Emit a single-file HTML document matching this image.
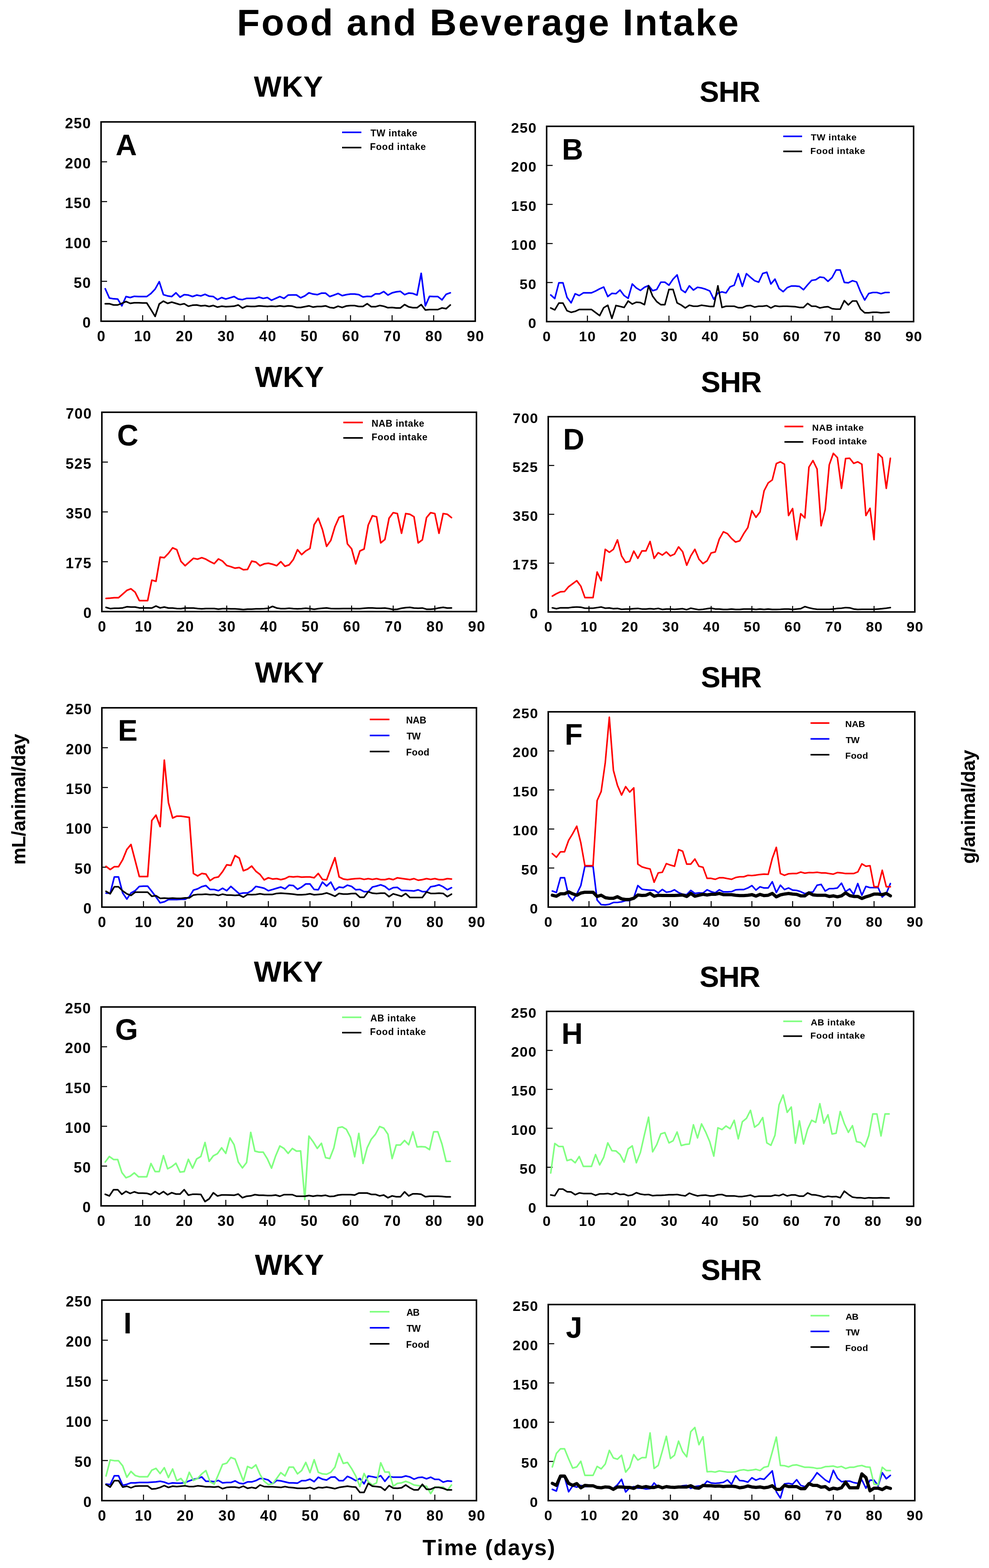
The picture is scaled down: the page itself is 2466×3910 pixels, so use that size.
<!DOCTYPE html>
<html><head><meta charset="utf-8"><title>Food and Beverage Intake</title>
<style>html,body{margin:0;padding:0;background:#fff;}svg{display:block;}text{fill:#000;}</style>
</head><body>
<svg width="2466" height="3910" viewBox="0 0 2466 3910" style="font-family:'Liberation Sans',Arial,Helvetica,sans-serif;font-weight:bold;font-kerning:none;">
<rect width="2466" height="3910" fill="#fff"/>
<text x="590.8" y="88.0" style="font-size:93px;letter-spacing:4.06px;">Food and Beverage Intake</text>
<text x="1053.4" y="3878.0" style="font-size:55.2px;letter-spacing:2.39px;">Time (days)</text>
<text transform="translate(62.9,2153) rotate(-90)" x="-3.2" y="0" style="font-size:48px;letter-spacing:-0.6px">mL/animal/day</text>
<text transform="translate(2431,2152) rotate(-90)" x="-2.0" y="0" style="font-size:48px;letter-spacing:-0.6px">g/animal/day</text>
<text x="633.0" y="241.0" style="font-size:73px;letter-spacing:0.90px;">WKY</text>
<text x="288.2" y="387.0" style="font-size:73.5px;">A</text>
<rect x="252" y="304" width="933" height="497" fill="none" stroke="#000" stroke-width="3.8"/>
<text x="205.7" y="817.2" style="font-size:36.5px;letter-spacing:1.60px;">0</text>
<text x="183.8" y="717.9" style="font-size:36.5px;letter-spacing:1.60px;">50</text>
<text x="161.9" y="618.5" style="font-size:36.5px;letter-spacing:1.60px;">100</text>
<text x="161.9" y="519.0" style="font-size:36.5px;letter-spacing:1.60px;">150</text>
<text x="161.9" y="419.6" style="font-size:36.5px;letter-spacing:1.60px;">200</text>
<text x="161.9" y="320.2" style="font-size:36.5px;letter-spacing:1.60px;">250</text>
<text x="241.9" y="850.5" style="font-size:36.5px;letter-spacing:1.60px;">0</text>
<text x="334.2" y="850.5" style="font-size:36.5px;letter-spacing:1.60px;">10</text>
<text x="438.3" y="850.5" style="font-size:36.5px;letter-spacing:1.60px;">20</text>
<text x="542.2" y="850.5" style="font-size:36.5px;letter-spacing:1.60px;">30</text>
<text x="646.0" y="850.5" style="font-size:36.5px;letter-spacing:1.60px;">40</text>
<text x="749.4" y="850.5" style="font-size:36.5px;letter-spacing:1.60px;">50</text>
<text x="853.0" y="850.5" style="font-size:36.5px;letter-spacing:1.60px;">60</text>
<text x="956.5" y="850.5" style="font-size:36.5px;letter-spacing:1.60px;">70</text>
<text x="1060.4" y="850.5" style="font-size:36.5px;letter-spacing:1.60px;">80</text>
<text x="1164.0" y="850.5" style="font-size:36.5px;letter-spacing:1.60px;">90</text>
<path d="M252,701.6h15M252,602.2h15M252,502.8h15M252,403.4h15M355.7,801v-15M459.3,801v-15M563.0,801v-15M666.7,801v-15M770.3,801v-15M874.0,801v-15M977.7,801v-15M1081.3,801v-15" stroke="#000" stroke-width="2.5" fill="none"/>
<path d="M853,330.0h48" stroke="#0000ff" stroke-width="4"/>
<text x="923.7" y="340.0" style="font-size:23.3px;letter-spacing:0.80px;">TW intake</text>
<path d="M853,368.0h48" stroke="#000000" stroke-width="4"/>
<text x="922.4" y="374.0" style="font-size:23.3px;letter-spacing:0.86px;">Food intake</text>
<polyline points="262.4,720.0 272.7,743.2 283.1,745.1 293.5,745.7 303.8,762.7 314.2,739.5 324.6,742.0 334.9,738.9 345.3,739.5 355.7,739.5 366.0,739.5 376.4,731.8 386.8,720.9 397.1,702.4 407.5,734.8 417.9,737.9 428.2,739.5 438.6,730.2 449.0,741.0 459.3,734.8 469.7,735.8 480.1,739.5 490.4,735.8 500.8,737.9 511.2,733.9 521.5,738.6 531.9,739.5 542.3,747.2 552.6,742.0 563.0,745.7 573.4,742.6 583.7,739.5 594.1,745.7 604.5,747.2 614.8,744.1 625.2,744.1 635.6,744.1 645.9,741.0 656.3,744.1 666.7,742.0 677.0,748.8 687.4,744.1 697.8,739.5 708.1,744.1 718.5,735.8 728.9,735.5 739.2,735.5 749.6,742.6 760.0,737.9 770.3,730.2 780.7,733.3 791.1,734.8 801.4,731.1 811.8,731.1 822.2,739.5 832.5,735.8 842.9,731.8 853.3,737.3 863.6,734.8 874.0,733.3 884.4,733.3 894.7,734.8 905.1,740.4 915.5,738.9 925.8,739.5 936.2,732.7 946.6,732.7 956.9,727.1 967.3,735.8 977.7,730.2 988.0,727.7 998.4,726.5 1008.8,734.8 1019.1,730.8 1029.5,731.8 1039.9,735.8 1050.2,681.6 1060.6,762.7 1071.0,738.9 1081.3,739.5 1091.7,739.5 1102.1,747.8 1112.4,733.9 1122.8,730.2" fill="none" stroke="#0000ff" stroke-width="4.00" stroke-linejoin="round" stroke-linecap="round"/>
<polyline points="262.4,757.4 272.7,757.4 283.1,760.5 293.5,760.5 303.8,756.5 314.2,751.9 324.6,756.5 334.9,754.9 345.3,754.9 355.7,755.6 366.0,755.6 376.4,772.0 386.8,789.0 397.1,758.0 407.5,750.9 417.9,756.5 428.2,753.4 438.6,756.5 449.0,759.6 459.3,757.4 469.7,763.6 480.1,761.1 490.4,760.5 500.8,762.7 511.2,761.8 521.5,764.2 531.9,761.8 542.3,765.8 552.6,763.6 563.0,764.8 573.4,764.2 583.7,763.6 594.1,760.5 604.5,768.2 614.8,763.6 625.2,764.2 635.6,764.2 645.9,762.7 656.3,763.6 666.7,764.2 677.0,763.6 687.4,764.2 697.8,762.7 708.1,764.2 718.5,762.7 728.9,763.6 739.2,766.7 749.6,766.7 760.0,764.8 770.3,762.7 780.7,765.8 791.1,764.2 801.4,764.2 811.8,762.7 822.2,766.7 832.5,767.9 842.9,763.6 853.3,766.7 863.6,763.0 874.0,762.1 884.4,762.1 894.7,764.2 905.1,764.2 915.5,757.4 925.8,764.8 936.2,764.8 946.6,761.8 956.9,763.6 967.3,767.3 977.7,766.7 988.0,767.9 998.4,767.9 1008.8,759.6 1019.1,765.2 1029.5,767.3 1039.9,767.3 1050.2,759.6 1060.6,772.9 1071.0,772.0 1081.3,772.0 1091.7,772.0 1102.1,767.9 1112.4,769.8 1122.8,760.5" fill="none" stroke="#000000" stroke-width="4.00" stroke-linejoin="round" stroke-linecap="round"/>
<text x="1744.3" y="253.5" style="font-size:73px;letter-spacing:-1.20px;">SHR</text>
<text x="1401.1" y="398.0" style="font-size:73.5px;">B</text>
<rect x="1363" y="315" width="915" height="487" fill="none" stroke="#000" stroke-width="3.8"/>
<text x="1317.1" y="818.0" style="font-size:35.8px;letter-spacing:1.57px;">0</text>
<text x="1295.6" y="720.6" style="font-size:35.8px;letter-spacing:1.57px;">50</text>
<text x="1274.2" y="623.2" style="font-size:35.8px;letter-spacing:1.57px;">100</text>
<text x="1274.2" y="525.8" style="font-size:35.8px;letter-spacing:1.57px;">150</text>
<text x="1274.2" y="428.4" style="font-size:35.8px;letter-spacing:1.57px;">200</text>
<text x="1274.2" y="331.0" style="font-size:35.8px;letter-spacing:1.57px;">250</text>
<text x="1353.1" y="851.0" style="font-size:35.8px;letter-spacing:1.57px;">0</text>
<text x="1443.6" y="851.0" style="font-size:35.8px;letter-spacing:1.57px;">10</text>
<text x="1545.8" y="851.0" style="font-size:35.8px;letter-spacing:1.57px;">20</text>
<text x="1647.6" y="851.0" style="font-size:35.8px;letter-spacing:1.57px;">30</text>
<text x="1749.5" y="851.0" style="font-size:35.8px;letter-spacing:1.57px;">40</text>
<text x="1850.8" y="851.0" style="font-size:35.8px;letter-spacing:1.57px;">50</text>
<text x="1952.4" y="851.0" style="font-size:35.8px;letter-spacing:1.57px;">60</text>
<text x="2054.0" y="851.0" style="font-size:35.8px;letter-spacing:1.57px;">70</text>
<text x="2155.8" y="851.0" style="font-size:35.8px;letter-spacing:1.57px;">80</text>
<text x="2257.4" y="851.0" style="font-size:35.8px;letter-spacing:1.57px;">90</text>
<path d="M1363,704.6h15M1363,607.2h15M1363,509.8h15M1363,412.4h15M1464.7,802v-15M1566.3,802v-15M1668.0,802v-15M1769.7,802v-15M1871.3,802v-15M1973.0,802v-15M2074.7,802v-15M2176.3,802v-15" stroke="#000" stroke-width="2.5" fill="none"/>
<path d="M1953,340.0h47" stroke="#0000ff" stroke-width="4"/>
<text x="2021.7" y="350.0" style="font-size:22.8px;letter-spacing:0.78px;">TW intake</text>
<path d="M1953,377.6h47" stroke="#000000" stroke-width="4"/>
<text x="2020.5" y="383.6" style="font-size:22.8px;letter-spacing:0.84px;">Food intake</text>
<polyline points="1373.2,735.5 1383.3,744.5 1393.5,705.2 1403.7,705.2 1413.8,741.5 1424.0,755.2 1434.2,732.4 1444.3,737.0 1454.5,730.3 1464.7,730.3 1474.8,730.3 1485.0,725.8 1495.2,720.3 1505.3,715.8 1515.5,739.4 1525.7,731.5 1535.8,732.4 1546.0,723.3 1556.2,737.0 1566.3,743.9 1576.5,708.2 1586.7,718.2 1596.8,724.2 1607.0,716.4 1617.2,712.1 1627.3,724.8 1637.5,721.8 1647.7,703.6 1657.8,703.6 1668.0,711.2 1678.2,696.1 1688.3,685.5 1698.5,722.4 1708.7,729.4 1718.8,712.7 1729.0,723.3 1739.2,716.4 1749.3,718.2 1759.5,721.2 1769.7,725.5 1779.8,746.1 1790.0,730.9 1800.2,727.9 1810.3,730.3 1820.5,715.2 1830.7,711.2 1840.8,682.4 1851.0,714.2 1861.2,682.4 1871.3,691.5 1881.5,700.0 1891.7,703.6 1901.8,681.8 1912.0,678.8 1922.2,708.2 1932.3,696.1 1942.5,719.4 1952.7,727.3 1962.8,717.3 1973.0,713.3 1983.2,713.3 1993.3,714.2 2003.5,722.4 2013.7,710.3 2023.8,699.1 2034.0,697.6 2044.2,690.9 2054.3,692.1 2064.5,701.5 2074.7,692.1 2084.8,673.3 2095.0,673.3 2105.2,704.2 2115.3,705.2 2125.5,700.0 2135.7,703.0 2145.8,727.9 2156.0,748.2 2166.2,731.8 2176.3,729.4 2186.5,729.4 2196.7,732.4 2206.8,729.4 2217.0,729.4" fill="none" stroke="#0000ff" stroke-width="3.88" stroke-linejoin="round" stroke-linecap="round"/>
<polyline points="1373.2,767.9 1383.3,772.7 1393.5,755.8 1403.7,755.8 1413.8,774.8 1424.0,778.8 1434.2,776.4 1444.3,771.8 1454.5,771.8 1464.7,771.8 1474.8,771.8 1485.0,779.4 1495.2,787.0 1505.3,767.3 1515.5,761.2 1525.7,793.9 1535.8,761.8 1546.0,764.2 1556.2,766.7 1566.3,750.6 1576.5,758.2 1586.7,753.6 1596.8,754.5 1607.0,759.7 1617.2,712.7 1627.3,738.5 1637.5,752.1 1647.7,759.7 1657.8,759.7 1668.0,721.8 1678.2,721.8 1688.3,755.2 1698.5,760.6 1708.7,767.9 1718.8,761.2 1729.0,763.6 1739.2,763.6 1749.3,761.2 1759.5,762.7 1769.7,764.2 1779.8,764.2 1790.0,712.7 1800.2,766.7 1810.3,763.6 1820.5,763.6 1830.7,763.6 1840.8,767.3 1851.0,767.3 1861.2,762.7 1871.3,761.8 1881.5,765.8 1891.7,763.6 1901.8,763.6 1912.0,762.1 1922.2,767.9 1932.3,762.7 1942.5,764.2 1952.7,763.6 1962.8,763.6 1973.0,764.2 1983.2,764.8 1993.3,766.7 2003.5,766.7 2013.7,756.7 2023.8,763.6 2034.0,763.6 2044.2,767.9 2054.3,765.8 2064.5,764.8 2074.7,769.7 2084.8,770.9 2095.0,770.9 2105.2,749.7 2115.3,760.3 2125.5,750.6 2135.7,750.6 2145.8,770.9 2156.0,780.0 2166.2,780.0 2176.3,778.8 2186.5,778.8 2196.7,780.0 2206.8,779.4 2217.0,778.8" fill="none" stroke="#000000" stroke-width="3.88" stroke-linejoin="round" stroke-linecap="round"/>
<text x="635.5" y="965.0" style="font-size:73px;letter-spacing:0.90px;">WKY</text>
<text x="292.0" y="1111.0" style="font-size:73.5px;">C</text>
<rect x="254" y="1028" width="934" height="497" fill="none" stroke="#000" stroke-width="3.8"/>
<text x="207.7" y="1541.2" style="font-size:36.5px;letter-spacing:1.60px;">0</text>
<text x="163.4" y="1417.0" style="font-size:36.5px;letter-spacing:1.60px;">175</text>
<text x="163.9" y="1292.8" style="font-size:36.5px;letter-spacing:1.60px;">350</text>
<text x="163.4" y="1168.5" style="font-size:36.5px;letter-spacing:1.60px;">525</text>
<text x="163.9" y="1044.2" style="font-size:36.5px;letter-spacing:1.60px;">700</text>
<text x="243.9" y="1574.5" style="font-size:36.5px;letter-spacing:1.60px;">0</text>
<text x="336.3" y="1574.5" style="font-size:36.5px;letter-spacing:1.60px;">10</text>
<text x="440.6" y="1574.5" style="font-size:36.5px;letter-spacing:1.60px;">20</text>
<text x="544.6" y="1574.5" style="font-size:36.5px;letter-spacing:1.60px;">30</text>
<text x="648.5" y="1574.5" style="font-size:36.5px;letter-spacing:1.60px;">40</text>
<text x="752.0" y="1574.5" style="font-size:36.5px;letter-spacing:1.60px;">50</text>
<text x="855.6" y="1574.5" style="font-size:36.5px;letter-spacing:1.60px;">60</text>
<text x="959.3" y="1574.5" style="font-size:36.5px;letter-spacing:1.60px;">70</text>
<text x="1063.3" y="1574.5" style="font-size:36.5px;letter-spacing:1.60px;">80</text>
<text x="1167.0" y="1574.5" style="font-size:36.5px;letter-spacing:1.60px;">90</text>
<path d="M254,1400.8h15M254,1276.5h15M254,1152.2h15M357.8,1525v-15M461.6,1525v-15M565.3,1525v-15M669.1,1525v-15M772.9,1525v-15M876.7,1525v-15M980.4,1525v-15M1084.2,1525v-15" stroke="#000" stroke-width="2.5" fill="none"/>
<path d="M856,1053.6h48.7" stroke="#ff0000" stroke-width="4"/>
<text x="926.4" y="1063.6" style="font-size:23.3px;letter-spacing:0.78px;">NAB intake</text>
<path d="M856,1092.0h48.7" stroke="#000000" stroke-width="4"/>
<text x="926.4" y="1098.0" style="font-size:23.3px;letter-spacing:0.86px;">Food intake</text>
<polyline points="264.4,1492.2 274.8,1491.6 285.1,1490.6 295.5,1490.6 305.9,1481.4 316.3,1472.2 326.6,1468.2 337.0,1476.8 347.4,1497.7 357.8,1497.7 368.2,1497.7 378.5,1446.7 388.9,1449.7 399.3,1389.2 409.7,1390.7 420.0,1379.9 430.4,1366.1 440.8,1370.7 451.2,1399.9 461.6,1410.7 471.9,1401.5 482.3,1392.2 492.7,1394.4 503.1,1390.7 513.4,1394.4 523.8,1400.5 534.2,1405.5 544.6,1393.8 555.0,1399.3 565.3,1410.1 575.7,1413.1 586.1,1416.8 596.5,1415.3 606.8,1420.8 617.2,1419.9 627.6,1399.3 638.0,1401.5 648.4,1410.7 658.7,1406.1 669.1,1404.5 679.5,1407.0 689.9,1410.7 700.2,1400.5 710.6,1412.2 721.0,1408.5 731.4,1395.3 741.8,1370.7 752.1,1383.0 762.5,1373.8 772.9,1367.6 783.3,1308.3 793.6,1292.3 804.0,1320.6 814.4,1362.4 824.8,1347.6 835.2,1313.2 845.5,1290.1 855.9,1286.1 866.3,1356.2 876.7,1368.5 887.0,1406.1 897.4,1373.8 907.8,1369.2 918.2,1309.2 928.6,1286.1 938.9,1288.6 949.3,1353.8 959.7,1345.2 970.1,1292.3 980.4,1278.4 990.8,1280.6 1001.2,1329.8 1011.6,1280.6 1022.0,1282.4 1032.3,1288.6 1042.7,1353.8 1053.1,1346.1 1063.5,1290.7 1073.8,1278.4 1084.2,1280.6 1094.6,1329.8 1105.0,1280.6 1115.4,1282.4 1125.7,1290.7" fill="none" stroke="#ff0000" stroke-width="4.00" stroke-linejoin="round" stroke-linecap="round"/>
<polyline points="264.4,1514.6 274.8,1517.7 285.1,1516.8 295.5,1516.8 305.9,1515.9 316.3,1513.1 326.6,1513.7 337.0,1513.7 347.4,1515.9 357.8,1515.9 368.2,1515.9 378.5,1516.2 388.9,1511.2 399.3,1515.9 409.7,1513.7 420.0,1516.2 430.4,1516.2 440.8,1517.4 451.2,1517.7 461.6,1516.2 471.9,1516.2 482.3,1516.2 492.7,1517.4 503.1,1518.3 513.4,1517.4 523.8,1517.4 534.2,1517.4 544.6,1518.9 555.0,1517.7 565.3,1517.7 575.7,1518.3 586.1,1518.3 596.5,1518.9 606.8,1519.9 617.2,1518.9 627.6,1518.9 638.0,1518.3 648.4,1518.3 658.7,1517.7 669.1,1516.8 679.5,1512.2 689.9,1516.2 700.2,1517.7 710.6,1517.7 721.0,1516.8 731.4,1517.7 741.8,1518.3 752.1,1517.7 762.5,1516.8 772.9,1517.7 783.3,1519.2 793.6,1517.7 804.0,1516.8 814.4,1515.9 824.8,1517.4 835.2,1517.7 845.5,1517.7 855.9,1517.4 866.3,1517.4 876.7,1517.4 887.0,1517.7 897.4,1517.7 907.8,1516.8 918.2,1515.9 928.6,1515.9 938.9,1516.8 949.3,1516.8 959.7,1516.2 970.1,1517.7 980.4,1519.9 990.8,1519.2 1001.2,1516.8 1011.6,1515.2 1022.0,1514.6 1032.3,1516.2 1042.7,1516.8 1053.1,1516.2 1063.5,1519.2 1073.8,1519.2 1084.2,1518.3 1094.6,1515.9 1105.0,1514.6 1115.4,1516.2 1125.7,1515.9" fill="none" stroke="#000000" stroke-width="4.00" stroke-linejoin="round" stroke-linecap="round"/>
<text x="1747.8" y="977.5" style="font-size:73px;letter-spacing:-1.20px;">SHR</text>
<text x="1404.1" y="1121.0" style="font-size:73.5px;">D</text>
<rect x="1367" y="1039" width="914" height="487" fill="none" stroke="#000" stroke-width="3.8"/>
<text x="1321.1" y="1542.0" style="font-size:35.8px;letter-spacing:1.57px;">0</text>
<text x="1277.7" y="1420.2" style="font-size:35.8px;letter-spacing:1.57px;">175</text>
<text x="1278.2" y="1298.5" style="font-size:35.8px;letter-spacing:1.57px;">350</text>
<text x="1277.7" y="1176.7" style="font-size:35.8px;letter-spacing:1.57px;">525</text>
<text x="1278.2" y="1055.0" style="font-size:35.8px;letter-spacing:1.57px;">700</text>
<text x="1357.1" y="1575.0" style="font-size:35.8px;letter-spacing:1.57px;">0</text>
<text x="1447.5" y="1575.0" style="font-size:35.8px;letter-spacing:1.57px;">10</text>
<text x="1549.5" y="1575.0" style="font-size:35.8px;letter-spacing:1.57px;">20</text>
<text x="1651.3" y="1575.0" style="font-size:35.8px;letter-spacing:1.57px;">30</text>
<text x="1753.0" y="1575.0" style="font-size:35.8px;letter-spacing:1.57px;">40</text>
<text x="1854.3" y="1575.0" style="font-size:35.8px;letter-spacing:1.57px;">50</text>
<text x="1955.7" y="1575.0" style="font-size:35.8px;letter-spacing:1.57px;">60</text>
<text x="2057.2" y="1575.0" style="font-size:35.8px;letter-spacing:1.57px;">70</text>
<text x="2158.9" y="1575.0" style="font-size:35.8px;letter-spacing:1.57px;">80</text>
<text x="2260.4" y="1575.0" style="font-size:35.8px;letter-spacing:1.57px;">90</text>
<path d="M1367,1404.2h15M1367,1282.5h15M1367,1160.8h15M1468.6,1526v-15M1570.1,1526v-15M1671.7,1526v-15M1773.2,1526v-15M1874.8,1526v-15M1976.3,1526v-15M2077.9,1526v-15M2179.4,1526v-15" stroke="#000" stroke-width="2.5" fill="none"/>
<path d="M1956,1063.6h47" stroke="#ff0000" stroke-width="4"/>
<text x="2025.0" y="1073.6" style="font-size:22.8px;letter-spacing:0.76px;">NAB intake</text>
<path d="M1956,1101.9h47" stroke="#000000" stroke-width="4"/>
<text x="2025.0" y="1107.9" style="font-size:22.8px;letter-spacing:0.84px;">Food intake</text>
<polyline points="1377.2,1486.5 1387.3,1480.5 1397.5,1475.7 1407.6,1475.1 1417.8,1463.1 1427.9,1455.6 1438.1,1448.0 1448.2,1461.6 1458.4,1490.2 1468.6,1490.2 1478.7,1490.2 1488.9,1426.4 1499.0,1448.0 1509.2,1369.8 1519.3,1377.3 1529.5,1369.8 1539.6,1346.3 1549.8,1386.3 1560.0,1402.3 1570.1,1399.9 1580.3,1374.3 1590.4,1392.4 1600.6,1373.7 1610.7,1373.7 1620.9,1350.2 1631.0,1392.4 1641.2,1378.2 1651.4,1384.2 1661.5,1376.4 1671.7,1386.3 1681.8,1381.8 1692.0,1363.8 1702.1,1375.8 1712.3,1409.5 1722.4,1386.3 1732.6,1369.8 1742.8,1394.5 1752.9,1405.3 1763.1,1398.4 1773.2,1378.8 1783.4,1376.4 1793.5,1344.2 1803.7,1326.1 1813.8,1330.7 1824.0,1342.7 1834.2,1351.7 1844.3,1348.7 1854.5,1330.7 1864.6,1315.6 1874.8,1273.5 1884.9,1290.0 1895.1,1276.5 1905.2,1223.8 1915.4,1204.3 1925.6,1196.7 1935.7,1156.1 1945.9,1151.6 1956.0,1157.6 1966.2,1285.5 1976.3,1268.1 1986.5,1345.7 1996.6,1281.0 2006.8,1291.5 2017.0,1165.1 2027.1,1148.6 2037.3,1169.7 2047.4,1311.1 2057.6,1270.5 2067.7,1159.1 2077.9,1130.5 2088.0,1141.1 2098.2,1217.8 2108.4,1143.5 2118.5,1142.6 2128.7,1155.5 2138.8,1151.6 2149.0,1157.6 2159.1,1285.5 2169.3,1267.5 2179.4,1345.7 2189.6,1131.4 2199.8,1141.1 2209.9,1217.8 2220.1,1142.6" fill="none" stroke="#ff0000" stroke-width="3.88" stroke-linejoin="round" stroke-linecap="round"/>
<polyline points="1377.2,1515.7 1387.3,1517.8 1397.5,1515.7 1407.6,1515.7 1417.8,1515.7 1427.9,1514.2 1438.1,1513.6 1448.2,1514.2 1458.4,1516.6 1468.6,1516.6 1478.7,1516.6 1488.9,1515.1 1499.0,1513.6 1509.2,1516.6 1519.3,1516.0 1529.5,1517.8 1539.6,1517.2 1549.8,1519.4 1560.0,1518.7 1570.1,1518.7 1580.3,1517.8 1590.4,1517.2 1600.6,1518.7 1610.7,1518.7 1620.9,1517.8 1631.0,1518.7 1641.2,1517.2 1651.4,1519.7 1661.5,1518.7 1671.7,1518.7 1681.8,1519.4 1692.0,1518.7 1702.1,1517.8 1712.3,1520.3 1722.4,1516.6 1732.6,1518.7 1742.8,1520.3 1752.9,1519.4 1763.1,1517.8 1773.2,1516.6 1783.4,1518.7 1793.5,1518.7 1803.7,1519.7 1813.8,1519.7 1824.0,1518.7 1834.2,1519.7 1844.3,1519.7 1854.5,1518.7 1864.6,1518.7 1874.8,1518.7 1884.9,1519.7 1895.1,1518.7 1905.2,1519.7 1915.4,1518.7 1925.6,1519.7 1935.7,1519.7 1945.9,1519.4 1956.0,1518.7 1966.2,1518.7 1976.3,1519.7 1986.5,1518.7 1996.6,1517.8 2006.8,1512.7 2017.0,1515.7 2027.1,1517.8 2037.3,1519.4 2047.4,1519.4 2057.6,1519.4 2067.7,1519.4 2077.9,1518.7 2088.0,1517.2 2098.2,1516.6 2108.4,1515.1 2118.5,1515.7 2128.7,1518.7 2138.8,1519.7 2149.0,1519.4 2159.1,1519.4 2169.3,1519.4 2179.4,1519.4 2189.6,1518.7 2199.8,1517.8 2209.9,1516.6 2220.1,1515.1" fill="none" stroke="#000000" stroke-width="3.88" stroke-linejoin="round" stroke-linecap="round"/>
<text x="635.5" y="1702.0" style="font-size:73px;letter-spacing:0.90px;">WKY</text>
<text x="294.1" y="1847.0" style="font-size:73.5px;">E</text>
<rect x="254" y="1765" width="934" height="497" fill="none" stroke="#000" stroke-width="3.8"/>
<text x="207.7" y="2278.2" style="font-size:36.5px;letter-spacing:1.60px;">0</text>
<text x="185.8" y="2178.8" style="font-size:36.5px;letter-spacing:1.60px;">50</text>
<text x="163.9" y="2079.4" style="font-size:36.5px;letter-spacing:1.60px;">100</text>
<text x="163.9" y="1980.0" style="font-size:36.5px;letter-spacing:1.60px;">150</text>
<text x="163.9" y="1880.7" style="font-size:36.5px;letter-spacing:1.60px;">200</text>
<text x="163.9" y="1781.2" style="font-size:36.5px;letter-spacing:1.60px;">250</text>
<text x="243.9" y="2311.5" style="font-size:36.5px;letter-spacing:1.60px;">0</text>
<text x="336.3" y="2311.5" style="font-size:36.5px;letter-spacing:1.60px;">10</text>
<text x="440.6" y="2311.5" style="font-size:36.5px;letter-spacing:1.60px;">20</text>
<text x="544.6" y="2311.5" style="font-size:36.5px;letter-spacing:1.60px;">30</text>
<text x="648.5" y="2311.5" style="font-size:36.5px;letter-spacing:1.60px;">40</text>
<text x="752.0" y="2311.5" style="font-size:36.5px;letter-spacing:1.60px;">50</text>
<text x="855.6" y="2311.5" style="font-size:36.5px;letter-spacing:1.60px;">60</text>
<text x="959.3" y="2311.5" style="font-size:36.5px;letter-spacing:1.60px;">70</text>
<text x="1063.3" y="2311.5" style="font-size:36.5px;letter-spacing:1.60px;">80</text>
<text x="1167.0" y="2311.5" style="font-size:36.5px;letter-spacing:1.60px;">90</text>
<path d="M254,2162.6h15M254,2063.2h15M254,1963.8h15M254,1864.4h15M357.8,2262v-15M461.6,2262v-15M565.3,2262v-15M669.1,2262v-15M772.9,2262v-15M876.7,2262v-15M980.4,2262v-15M1084.2,2262v-15" stroke="#000" stroke-width="2.5" fill="none"/>
<path d="M922,1794.0h49" stroke="#ff0000" stroke-width="4"/>
<text x="1012.4" y="1804.0" style="font-size:23.3px;letter-spacing:0.07px;">NAB</text>
<path d="M922,1834.0h49" stroke="#0000ff" stroke-width="4"/>
<text x="1013.7" y="1844.0" style="font-size:23.3px;letter-spacing:-0.94px;">TW</text>
<path d="M922,1874.0h49" stroke="#000000" stroke-width="4"/>
<text x="1012.4" y="1884.0" style="font-size:23.3px;letter-spacing:0.39px;">Food</text>
<polyline points="264.4,2227.3 274.8,2227.3 285.1,2186.7 295.5,2186.7 305.9,2226.7 316.3,2242.0 326.6,2226.7 337.0,2221.1 347.4,2210.4 357.8,2209.8 368.2,2209.8 378.5,2222.7 388.9,2236.5 399.3,2251.3 409.7,2248.8 420.0,2243.3 430.4,2243.3 440.8,2243.3 451.2,2242.6 461.6,2242.6 471.9,2236.5 482.3,2219.6 492.7,2216.5 503.1,2211.0 513.4,2208.2 523.8,2218.1 534.2,2218.1 544.6,2221.1 555.0,2215.0 565.3,2221.1 575.7,2210.4 586.1,2219.6 596.5,2228.8 606.8,2226.7 617.2,2226.7 627.6,2221.1 638.0,2210.4 648.4,2212.5 658.7,2215.0 669.1,2221.1 679.5,2218.1 689.9,2215.0 700.2,2211.9 710.6,2216.5 721.0,2207.3 731.4,2208.2 741.8,2217.4 752.1,2211.9 762.5,2204.2 772.9,2204.2 783.3,2218.1 793.6,2218.7 804.0,2199.6 814.4,2209.5 824.8,2199.6 835.2,2219.6 845.5,2211.9 855.9,2213.5 866.3,2207.3 876.7,2210.4 887.0,2218.7 897.4,2218.1 907.8,2223.6 918.2,2223.6 928.6,2211.9 938.9,2209.5 949.3,2206.4 959.7,2210.4 970.1,2218.7 980.4,2213.5 990.8,2212.8 1001.2,2220.5 1011.6,2220.5 1022.0,2221.1 1032.3,2221.7 1042.7,2219.0 1053.1,2223.3 1063.5,2223.6 1073.8,2211.3 1084.2,2209.5 1094.6,2206.4 1105.0,2211.3 1115.4,2218.7 1125.7,2213.5" fill="none" stroke="#0000ff" stroke-width="4.00" stroke-linejoin="round" stroke-linecap="round"/>
<polyline points="264.4,2160.3 274.8,2168.3 285.1,2161.2 295.5,2161.2 305.9,2143.7 316.3,2118.2 326.6,2105.9 337.0,2145.8 347.4,2185.8 357.8,2185.8 368.2,2185.8 378.5,2046.0 388.9,2032.7 399.3,2061.3 409.7,1895.4 420.0,2001.4 430.4,2039.8 440.8,2035.2 451.2,2035.2 461.6,2036.7 471.9,2038.3 482.3,2178.1 492.7,2184.3 503.1,2178.1 513.4,2179.6 523.8,2195.9 534.2,2188.9 544.6,2186.7 555.0,2173.5 565.3,2156.6 575.7,2158.1 586.1,2133.5 596.5,2139.7 606.8,2171.3 617.2,2167.4 627.6,2159.7 638.0,2172.6 648.4,2180.6 658.7,2194.1 669.1,2188.9 679.5,2191.9 689.9,2191.0 700.2,2193.5 710.6,2191.0 721.0,2185.8 731.4,2186.7 741.8,2185.8 752.1,2187.3 762.5,2186.7 772.9,2186.7 783.3,2188.9 793.6,2178.1 804.0,2192.9 814.4,2194.1 824.8,2165.8 835.2,2138.8 845.5,2186.7 855.9,2191.9 866.3,2193.5 876.7,2191.9 887.0,2191.0 897.4,2190.4 907.8,2192.9 918.2,2191.0 928.6,2192.9 938.9,2191.0 949.3,2193.5 959.7,2193.5 970.1,2191.0 980.4,2193.5 990.8,2188.9 1001.2,2190.4 1011.6,2191.9 1022.0,2193.5 1032.3,2191.0 1042.7,2195.0 1053.1,2193.5 1063.5,2191.0 1073.8,2192.9 1084.2,2191.0 1094.6,2193.5 1105.0,2193.5 1115.4,2191.0 1125.7,2191.9" fill="none" stroke="#ff0000" stroke-width="4.00" stroke-linejoin="round" stroke-linecap="round"/>
<polyline points="264.4,2222.7 274.8,2228.8 285.1,2211.3 295.5,2211.3 305.9,2221.7 316.3,2228.8 326.6,2232.8 337.0,2224.8 347.4,2224.8 357.8,2224.8 368.2,2224.8 378.5,2235.0 388.9,2233.4 399.3,2240.2 409.7,2239.6 420.0,2240.2 430.4,2239.6 440.8,2240.2 451.2,2240.2 461.6,2239.0 471.9,2239.0 482.3,2231.9 492.7,2230.4 503.1,2230.4 513.4,2229.7 523.8,2231.0 534.2,2230.4 544.6,2232.8 555.0,2229.7 565.3,2231.9 575.7,2231.9 586.1,2232.8 596.5,2231.9 606.8,2237.1 617.2,2230.4 627.6,2231.0 638.0,2230.4 648.4,2228.8 658.7,2230.4 669.1,2230.4 679.5,2230.4 689.9,2227.9 700.2,2227.3 710.6,2227.9 721.0,2228.8 731.4,2229.7 741.8,2231.3 752.1,2231.3 762.5,2230.4 772.9,2228.8 783.3,2231.3 793.6,2230.4 804.0,2229.4 814.4,2226.7 824.8,2230.4 835.2,2235.0 845.5,2227.9 855.9,2229.4 866.3,2229.4 876.7,2228.2 887.0,2227.9 897.4,2237.4 907.8,2237.4 918.2,2223.6 928.6,2227.3 938.9,2228.2 949.3,2227.3 959.7,2227.3 970.1,2235.9 980.4,2228.8 990.8,2231.9 1001.2,2235.0 1011.6,2228.2 1022.0,2238.0 1032.3,2238.0 1042.7,2238.0 1053.1,2238.0 1063.5,2224.2 1073.8,2227.9 1084.2,2227.9 1094.6,2227.3 1105.0,2227.9 1115.4,2235.9 1125.7,2229.7" fill="none" stroke="#000000" stroke-width="4.00" stroke-linejoin="round" stroke-linecap="round"/>
<text x="1747.8" y="1713.5" style="font-size:73px;letter-spacing:-1.20px;">SHR</text>
<text x="1408.1" y="1857.0" style="font-size:73.5px;">F</text>
<rect x="1367" y="1775" width="914" height="487" fill="none" stroke="#000" stroke-width="3.8"/>
<text x="1321.1" y="2278.0" style="font-size:35.8px;letter-spacing:1.57px;">0</text>
<text x="1299.6" y="2180.6" style="font-size:35.8px;letter-spacing:1.57px;">50</text>
<text x="1278.2" y="2083.2" style="font-size:35.8px;letter-spacing:1.57px;">100</text>
<text x="1278.2" y="1985.8" style="font-size:35.8px;letter-spacing:1.57px;">150</text>
<text x="1278.2" y="1888.4" style="font-size:35.8px;letter-spacing:1.57px;">200</text>
<text x="1278.2" y="1791.0" style="font-size:35.8px;letter-spacing:1.57px;">250</text>
<text x="1357.1" y="2311.0" style="font-size:35.8px;letter-spacing:1.57px;">0</text>
<text x="1447.5" y="2311.0" style="font-size:35.8px;letter-spacing:1.57px;">10</text>
<text x="1549.5" y="2311.0" style="font-size:35.8px;letter-spacing:1.57px;">20</text>
<text x="1651.3" y="2311.0" style="font-size:35.8px;letter-spacing:1.57px;">30</text>
<text x="1753.0" y="2311.0" style="font-size:35.8px;letter-spacing:1.57px;">40</text>
<text x="1854.3" y="2311.0" style="font-size:35.8px;letter-spacing:1.57px;">50</text>
<text x="1955.7" y="2311.0" style="font-size:35.8px;letter-spacing:1.57px;">60</text>
<text x="2057.2" y="2311.0" style="font-size:35.8px;letter-spacing:1.57px;">70</text>
<text x="2158.9" y="2311.0" style="font-size:35.8px;letter-spacing:1.57px;">80</text>
<text x="2260.4" y="2311.0" style="font-size:35.8px;letter-spacing:1.57px;">90</text>
<path d="M1367,2164.6h15M1367,2067.2h15M1367,1969.8h15M1367,1872.4h15M1468.6,2262v-15M1570.1,2262v-15M1671.7,2262v-15M1773.2,2262v-15M1874.8,2262v-15M1976.3,2262v-15M2077.9,2262v-15M2179.4,2262v-15" stroke="#000" stroke-width="2.5" fill="none"/>
<path d="M2021,1803.0h47" stroke="#ff0000" stroke-width="4"/>
<text x="2107.5" y="1813.0" style="font-size:22.8px;letter-spacing:0.07px;">NAB</text>
<path d="M2021,1842.5h47" stroke="#0000ff" stroke-width="4"/>
<text x="2108.7" y="1852.5" style="font-size:22.8px;letter-spacing:-0.92px;">TW</text>
<path d="M2021,1882.0h47" stroke="#000000" stroke-width="4"/>
<text x="2107.5" y="1892.0" style="font-size:22.8px;letter-spacing:0.38px;">Food</text>
<polyline points="1377.2,2221.9 1387.3,2225.5 1397.5,2188.8 1407.6,2188.8 1417.8,2233.9 1427.9,2245.9 1438.1,2229.4 1448.2,2208.3 1458.4,2160.2 1468.6,2160.2 1478.7,2160.2 1488.9,2244.4 1499.0,2255.9 1509.2,2256.5 1519.3,2255.0 1529.5,2250.4 1539.6,2250.4 1549.8,2248.9 1560.0,2245.9 1570.1,2245.9 1580.3,2238.4 1590.4,2208.3 1600.6,2217.3 1610.7,2218.8 1620.9,2219.7 1631.0,2219.7 1641.2,2226.4 1651.4,2217.9 1661.5,2224.9 1671.7,2223.4 1681.8,2218.8 1692.0,2225.8 1702.1,2230.0 1712.3,2230.9 1722.4,2220.3 1732.6,2227.9 1742.8,2226.4 1752.9,2227.0 1763.1,2218.8 1773.2,2223.4 1783.4,2226.4 1793.5,2218.8 1803.7,2224.0 1813.8,2224.0 1824.0,2223.4 1834.2,2218.9 1844.3,2218.3 1854.5,2218.3 1864.6,2214.3 1874.8,2208.3 1884.9,2219.5 1895.1,2211.3 1905.2,2214.3 1915.4,2214.3 1925.6,2198.7 1935.7,2225.5 1945.9,2207.4 1956.0,2218.3 1966.2,2214.3 1976.3,2219.5 1986.5,2220.4 1996.6,2223.4 2006.8,2228.5 2017.0,2224.9 2027.1,2224.3 2037.3,2207.4 2047.4,2205.3 2057.6,2221.9 2067.7,2215.9 2077.9,2215.9 2088.0,2214.3 2098.2,2202.3 2108.4,2223.4 2118.5,2216.5 2128.7,2230.3 2138.8,2203.2 2149.0,2232.4 2159.1,2210.4 2169.3,2213.4 2179.4,2213.4 2189.6,2213.4 2199.8,2236.9 2209.9,2227.9 2220.1,2203.2" fill="none" stroke="#0000ff" stroke-width="3.88" stroke-linejoin="round" stroke-linecap="round"/>
<polyline points="1377.2,2128.6 1387.3,2137.6 1397.5,2124.1 1407.6,2124.1 1417.8,2095.5 1427.9,2078.9 1438.1,2060.3 1448.2,2101.5 1458.4,2158.7 1468.6,2158.7 1478.7,2158.7 1488.9,1996.2 1499.0,1973.6 1509.2,1901.4 1519.3,1788.5 1529.5,1920.9 1539.6,1958.6 1549.8,1982.6 1560.0,1961.6 1570.1,1975.1 1580.3,1964.6 1590.4,2154.8 1600.6,2161.7 1610.7,2164.7 1620.9,2166.8 1631.0,2199.9 1641.2,2176.7 1651.4,2175.2 1661.5,2153.5 1671.7,2157.2 1681.8,2160.2 1692.0,2118.6 1702.1,2122.6 1712.3,2154.8 1722.4,2154.8 1732.6,2142.1 1742.8,2160.2 1752.9,2162.6 1763.1,2190.3 1773.2,2190.3 1783.4,2192.7 1793.5,2188.8 1803.7,2188.8 1813.8,2190.9 1824.0,2192.7 1834.2,2188.2 1844.3,2186.4 1854.5,2186.4 1864.6,2182.8 1874.8,2183.4 1884.9,2182.2 1895.1,2180.7 1905.2,2179.8 1915.4,2180.4 1925.6,2140.7 1935.7,2113.0 1945.9,2178.3 1956.0,2182.8 1966.2,2178.9 1976.3,2178.3 1986.5,2178.3 1996.6,2174.6 2006.8,2177.3 2017.0,2175.8 2027.1,2176.1 2037.3,2175.2 2047.4,2176.7 2057.6,2176.7 2067.7,2178.3 2077.9,2179.8 2088.0,2175.8 2098.2,2176.7 2108.4,2178.3 2118.5,2178.3 2128.7,2178.3 2138.8,2174.3 2149.0,2154.2 2159.1,2160.2 2169.3,2158.7 2179.4,2211.3 2189.6,2211.3 2199.8,2170.1 2209.9,2211.3 2220.1,2211.3" fill="none" stroke="#ff0000" stroke-width="3.88" stroke-linejoin="round" stroke-linecap="round"/>
<polyline points="1377.2,2232.4 1387.3,2234.8 1397.5,2228.8 1407.6,2228.8 1417.8,2224.0 1427.9,2228.8 1438.1,2232.4 1448.2,2227.0 1458.4,2224.9 1468.6,2224.9 1478.7,2224.9 1488.9,2235.4 1499.0,2232.4 1509.2,2238.4 1519.3,2239.9 1529.5,2239.9 1539.6,2236.0 1549.8,2241.4 1560.0,2242.9 1570.1,2242.9 1580.3,2239.9 1590.4,2231.8 1600.6,2233.0 1610.7,2232.4 1620.9,2227.9 1631.0,2234.8 1641.2,2232.4 1651.4,2233.0 1661.5,2233.0 1671.7,2233.0 1681.8,2233.0 1692.0,2232.4 1702.1,2231.8 1712.3,2235.4 1722.4,2227.9 1732.6,2234.8 1742.8,2232.4 1752.9,2230.0 1763.1,2231.8 1773.2,2230.0 1783.4,2230.0 1793.5,2227.9 1803.7,2230.9 1813.8,2230.9 1824.0,2230.9 1834.2,2232.4 1844.3,2233.3 1854.5,2233.3 1864.6,2232.4 1874.8,2230.9 1884.9,2234.5 1895.1,2230.3 1905.2,2233.3 1915.4,2232.4 1925.6,2227.9 1935.7,2236.3 1945.9,2231.5 1956.0,2229.4 1966.2,2227.9 1976.3,2229.4 1986.5,2230.3 1996.6,2233.9 2006.8,2233.9 2017.0,2226.4 2027.1,2231.5 2037.3,2232.4 2047.4,2232.4 2057.6,2232.4 2067.7,2235.4 2077.9,2233.9 2088.0,2236.3 2098.2,2233.9 2108.4,2226.4 2118.5,2233.3 2128.7,2235.4 2138.8,2235.4 2149.0,2240.5 2159.1,2236.3 2169.3,2233.3 2179.4,2229.4 2189.6,2229.4 2199.8,2230.9 2209.9,2227.9 2220.1,2233.9" fill="none" stroke="#000000" stroke-width="8.05" stroke-linejoin="round" stroke-linecap="round"/>
<text x="633.0" y="2448.0" style="font-size:73px;letter-spacing:0.90px;">WKY</text>
<text x="287.0" y="2593.0" style="font-size:73.5px;">G</text>
<rect x="252" y="2511" width="933" height="496" fill="none" stroke="#000" stroke-width="3.8"/>
<text x="205.7" y="3023.2" style="font-size:36.5px;letter-spacing:1.60px;">0</text>
<text x="183.8" y="2924.1" style="font-size:36.5px;letter-spacing:1.60px;">50</text>
<text x="161.9" y="2824.8" style="font-size:36.5px;letter-spacing:1.60px;">100</text>
<text x="161.9" y="2725.7" style="font-size:36.5px;letter-spacing:1.60px;">150</text>
<text x="161.9" y="2626.4" style="font-size:36.5px;letter-spacing:1.60px;">200</text>
<text x="161.9" y="2527.2" style="font-size:36.5px;letter-spacing:1.60px;">250</text>
<text x="241.9" y="3056.5" style="font-size:36.5px;letter-spacing:1.60px;">0</text>
<text x="334.2" y="3056.5" style="font-size:36.5px;letter-spacing:1.60px;">10</text>
<text x="438.3" y="3056.5" style="font-size:36.5px;letter-spacing:1.60px;">20</text>
<text x="542.2" y="3056.5" style="font-size:36.5px;letter-spacing:1.60px;">30</text>
<text x="646.0" y="3056.5" style="font-size:36.5px;letter-spacing:1.60px;">40</text>
<text x="749.4" y="3056.5" style="font-size:36.5px;letter-spacing:1.60px;">50</text>
<text x="853.0" y="3056.5" style="font-size:36.5px;letter-spacing:1.60px;">60</text>
<text x="956.5" y="3056.5" style="font-size:36.5px;letter-spacing:1.60px;">70</text>
<text x="1060.4" y="3056.5" style="font-size:36.5px;letter-spacing:1.60px;">80</text>
<text x="1164.0" y="3056.5" style="font-size:36.5px;letter-spacing:1.60px;">90</text>
<path d="M252,2907.8h15M252,2808.6h15M252,2709.4h15M252,2610.2h15M355.7,3007v-15M459.3,3007v-15M563.0,3007v-15M666.7,3007v-15M770.3,3007v-15M874.0,3007v-15M977.7,3007v-15M1081.3,3007v-15" stroke="#000" stroke-width="2.5" fill="none"/>
<path d="M853,2536.7h48" stroke="#80ff80" stroke-width="4"/>
<text x="923.4" y="2546.7" style="font-size:23.3px;letter-spacing:0.74px;">AB intake</text>
<path d="M853,2575.0h48" stroke="#000000" stroke-width="4"/>
<text x="922.4" y="2581.0" style="font-size:23.3px;letter-spacing:0.86px;">Food intake</text>
<polyline points="262.4,2897.6 272.7,2883.8 283.1,2891.4 293.5,2891.4 303.8,2923.7 314.2,2936.9 324.6,2932.9 334.9,2924.6 345.3,2934.5 355.7,2934.5 366.0,2934.5 376.4,2901.3 386.8,2921.6 397.1,2921.6 407.5,2881.6 417.9,2914.5 428.2,2909.3 438.6,2900.7 449.0,2922.8 459.3,2921.6 469.7,2890.8 480.1,2913.0 490.4,2889.9 500.8,2883.8 511.2,2849.0 521.5,2896.0 531.9,2882.2 542.3,2876.7 552.6,2862.2 563.0,2876.1 573.4,2837.6 583.7,2854.5 594.1,2897.6 604.5,2912.3 614.8,2899.1 625.2,2823.8 635.6,2870.5 645.9,2873.0 656.3,2873.0 666.7,2889.9 677.0,2913.0 687.4,2882.2 697.8,2857.6 708.1,2863.8 718.5,2876.1 728.9,2863.8 739.2,2870.5 749.6,2869.9 760.0,2991.3 770.3,2833.0 780.7,2846.9 791.1,2863.8 801.4,2850.9 811.8,2886.8 822.2,2889.0 832.5,2862.2 842.9,2812.1 853.3,2810.0 863.6,2816.1 874.0,2836.1 884.4,2884.7 894.7,2826.3 905.1,2901.3 915.5,2862.2 925.8,2840.7 936.2,2828.4 946.6,2809.1 956.9,2813.1 967.3,2828.4 977.7,2889.0 988.0,2855.2 998.4,2855.2 1008.8,2843.8 1019.1,2854.5 1029.5,2822.3 1039.9,2860.1 1050.2,2859.2 1060.6,2860.1 1071.0,2866.8 1081.3,2822.3 1091.7,2822.3 1102.1,2853.0 1112.4,2896.0 1122.8,2896.0" fill="none" stroke="#80ff80" stroke-width="4.00" stroke-linejoin="round" stroke-linecap="round"/>
<polyline points="262.4,2978.1 272.7,2982.1 283.1,2966.7 293.5,2966.7 303.8,2978.1 314.2,2970.7 324.6,2976.0 334.9,2972.0 345.3,2975.3 355.7,2975.3 366.0,2975.7 376.4,2979.0 386.8,2971.4 397.1,2978.1 407.5,2971.4 417.9,2979.3 428.2,2974.1 438.6,2977.5 449.0,2977.5 459.3,2966.7 469.7,2980.3 480.1,2978.1 490.4,2978.1 500.8,2978.4 511.2,2996.2 521.5,2989.5 531.9,2974.4 542.3,2982.4 552.6,2979.7 563.0,2979.7 573.4,2980.0 583.7,2980.6 594.1,2977.5 604.5,2986.7 614.8,2983.0 625.2,2982.1 635.6,2979.0 645.9,2980.6 656.3,2980.6 666.7,2981.2 677.0,2981.2 687.4,2980.0 697.8,2983.0 708.1,2979.0 718.5,2979.0 728.9,2979.0 739.2,2983.0 749.6,2983.0 760.0,2983.0 770.3,2981.2 780.7,2983.0 791.1,2981.2 801.4,2982.1 811.8,2980.6 822.2,2983.6 832.5,2983.0 842.9,2980.0 853.3,2979.0 863.6,2979.0 874.0,2979.0 884.4,2980.0 894.7,2975.0 905.1,2975.0 915.5,2975.0 925.8,2978.4 936.2,2978.4 946.6,2982.1 956.9,2980.0 967.3,2986.7 977.7,2982.1 988.0,2984.3 998.4,2984.3 1008.8,2972.0 1019.1,2982.1 1029.5,2976.9 1039.9,2976.9 1050.2,2978.1 1060.6,2984.3 1071.0,2983.0 1081.3,2983.0 1091.7,2983.0 1102.1,2983.6 1112.4,2984.6 1122.8,2984.6" fill="none" stroke="#000000" stroke-width="4.00" stroke-linejoin="round" stroke-linecap="round"/>
<text x="1744.3" y="2460.5" style="font-size:73px;letter-spacing:-1.20px;">SHR</text>
<text x="1400.1" y="2603.0" style="font-size:73.5px;">H</text>
<rect x="1363" y="2522" width="915" height="486" fill="none" stroke="#000" stroke-width="3.8"/>
<text x="1317.1" y="3024.0" style="font-size:35.8px;letter-spacing:1.57px;">0</text>
<text x="1295.6" y="2926.8" style="font-size:35.8px;letter-spacing:1.57px;">50</text>
<text x="1274.2" y="2829.6" style="font-size:35.8px;letter-spacing:1.57px;">100</text>
<text x="1274.2" y="2732.4" style="font-size:35.8px;letter-spacing:1.57px;">150</text>
<text x="1274.2" y="2635.2" style="font-size:35.8px;letter-spacing:1.57px;">200</text>
<text x="1274.2" y="2538.0" style="font-size:35.8px;letter-spacing:1.57px;">250</text>
<text x="1353.1" y="3057.0" style="font-size:35.8px;letter-spacing:1.57px;">0</text>
<text x="1443.6" y="3057.0" style="font-size:35.8px;letter-spacing:1.57px;">10</text>
<text x="1545.8" y="3057.0" style="font-size:35.8px;letter-spacing:1.57px;">20</text>
<text x="1647.6" y="3057.0" style="font-size:35.8px;letter-spacing:1.57px;">30</text>
<text x="1749.5" y="3057.0" style="font-size:35.8px;letter-spacing:1.57px;">40</text>
<text x="1850.8" y="3057.0" style="font-size:35.8px;letter-spacing:1.57px;">50</text>
<text x="1952.4" y="3057.0" style="font-size:35.8px;letter-spacing:1.57px;">60</text>
<text x="2054.0" y="3057.0" style="font-size:35.8px;letter-spacing:1.57px;">70</text>
<text x="2155.8" y="3057.0" style="font-size:35.8px;letter-spacing:1.57px;">80</text>
<text x="2257.4" y="3057.0" style="font-size:35.8px;letter-spacing:1.57px;">90</text>
<path d="M1363,2910.8h15M1363,2813.6h15M1363,2716.4h15M1363,2619.2h15M1464.7,3008v-15M1566.3,3008v-15M1668.0,3008v-15M1769.7,3008v-15M1871.3,3008v-15M1973.0,3008v-15M2074.7,3008v-15M2176.3,3008v-15" stroke="#000" stroke-width="2.5" fill="none"/>
<path d="M1953,2546.7h47" stroke="#80ff80" stroke-width="4"/>
<text x="2021.4" y="2556.7" style="font-size:22.8px;letter-spacing:0.73px;">AB intake</text>
<path d="M1953,2583.7h47" stroke="#000000" stroke-width="4"/>
<text x="2020.5" y="2589.7" style="font-size:22.8px;letter-spacing:0.84px;">Food intake</text>
<polyline points="1373.2,2925.1 1383.3,2851.4 1393.5,2858.9 1403.7,2858.9 1413.8,2894.1 1424.0,2891.1 1434.2,2899.5 1444.3,2883.9 1454.5,2908.5 1464.7,2908.5 1474.8,2908.5 1485.0,2879.0 1495.2,2904.9 1505.3,2886.0 1515.5,2849.9 1525.7,2869.4 1535.8,2870.0 1546.0,2879.0 1556.2,2898.0 1566.3,2864.9 1576.5,2857.4 1586.7,2899.5 1596.8,2873.9 1607.0,2828.8 1617.2,2785.8 1627.3,2872.4 1637.5,2854.4 1647.7,2827.3 1657.8,2824.3 1668.0,2849.9 1678.2,2844.8 1688.3,2822.8 1698.5,2856.5 1708.7,2853.8 1718.8,2852.9 1729.0,2804.7 1739.2,2837.8 1749.3,2802.6 1759.5,2822.8 1769.7,2846.9 1779.8,2883.0 1790.0,2812.3 1800.2,2816.8 1810.3,2807.8 1820.5,2814.7 1830.7,2793.6 1840.8,2839.9 1851.0,2797.2 1861.2,2788.8 1871.3,2768.7 1881.5,2810.8 1891.7,2803.2 1901.8,2786.7 1912.0,2849.9 1922.2,2855.9 1932.3,2830.9 1942.5,2755.1 1952.7,2730.5 1962.8,2773.8 1973.0,2760.5 1983.2,2850.8 1993.3,2794.8 2003.5,2852.9 2013.7,2815.9 2023.8,2793.6 2034.0,2798.7 2044.2,2752.1 2054.3,2800.8 2064.5,2779.8 2074.7,2827.9 2084.8,2825.8 2095.0,2771.7 2105.2,2801.7 2115.3,2823.7 2125.5,2806.9 2135.7,2846.9 2145.8,2849.0 2156.0,2859.8 2166.2,2831.8 2176.3,2777.7 2186.5,2777.7 2196.7,2832.7 2206.8,2777.7 2217.0,2777.7" fill="none" stroke="#80ff80" stroke-width="3.88" stroke-linejoin="round" stroke-linecap="round"/>
<polyline points="1373.2,2979.8 1383.3,2981.6 1393.5,2965.1 1403.7,2965.1 1413.8,2971.7 1424.0,2972.3 1434.2,2979.2 1444.3,2974.7 1454.5,2976.2 1464.7,2976.2 1474.8,2976.2 1485.0,2980.7 1495.2,2977.1 1505.3,2977.1 1515.5,2976.2 1525.7,2978.6 1535.8,2974.7 1546.0,2978.6 1556.2,2977.7 1566.3,2981.6 1576.5,2979.8 1586.7,2974.1 1596.8,2977.7 1607.0,2979.2 1617.2,2978.6 1627.3,2981.6 1637.5,2980.7 1647.7,2980.7 1657.8,2980.1 1668.0,2979.2 1678.2,2979.2 1688.3,2978.6 1698.5,2980.7 1708.7,2982.2 1718.8,2975.3 1729.0,2979.2 1739.2,2982.2 1749.3,2980.7 1759.5,2980.1 1769.7,2982.2 1779.8,2982.2 1790.0,2979.2 1800.2,2978.6 1810.3,2982.2 1820.5,2982.2 1830.7,2982.2 1840.8,2983.7 1851.0,2983.7 1861.2,2982.2 1871.3,2980.1 1881.5,2984.3 1891.7,2982.8 1901.8,2982.8 1912.0,2982.8 1922.2,2982.8 1932.3,2980.1 1942.5,2981.6 1952.7,2977.7 1962.8,2982.2 1973.0,2979.8 1983.2,2979.8 1993.3,2982.8 2003.5,2982.8 2013.7,2974.7 2023.8,2979.2 2034.0,2979.8 2044.2,2982.2 2054.3,2985.2 2064.5,2982.8 2074.7,2984.3 2084.8,2983.7 2095.0,2986.7 2105.2,2970.2 2115.3,2978.3 2125.5,2985.2 2135.7,2986.7 2145.8,2986.7 2156.0,2988.2 2166.2,2986.7 2176.3,2987.3 2186.5,2987.3 2196.7,2986.7 2206.8,2987.3 2217.0,2987.3" fill="none" stroke="#000000" stroke-width="3.88" stroke-linejoin="round" stroke-linecap="round"/>
<text x="635.5" y="3179.0" style="font-size:73px;letter-spacing:0.90px;">WKY</text>
<text x="308.1" y="3325.0" style="font-size:73.5px;">I</text>
<rect x="254" y="3242" width="934" height="500" fill="none" stroke="#000" stroke-width="3.8"/>
<text x="207.7" y="3758.2" style="font-size:36.5px;letter-spacing:1.60px;">0</text>
<text x="185.8" y="3658.2" style="font-size:36.5px;letter-spacing:1.60px;">50</text>
<text x="163.9" y="3558.2" style="font-size:36.5px;letter-spacing:1.60px;">100</text>
<text x="163.9" y="3458.2" style="font-size:36.5px;letter-spacing:1.60px;">150</text>
<text x="163.9" y="3358.2" style="font-size:36.5px;letter-spacing:1.60px;">200</text>
<text x="163.9" y="3258.2" style="font-size:36.5px;letter-spacing:1.60px;">250</text>
<text x="243.9" y="3791.5" style="font-size:36.5px;letter-spacing:1.60px;">0</text>
<text x="336.3" y="3791.5" style="font-size:36.5px;letter-spacing:1.60px;">10</text>
<text x="440.6" y="3791.5" style="font-size:36.5px;letter-spacing:1.60px;">20</text>
<text x="544.6" y="3791.5" style="font-size:36.5px;letter-spacing:1.60px;">30</text>
<text x="648.5" y="3791.5" style="font-size:36.5px;letter-spacing:1.60px;">40</text>
<text x="752.0" y="3791.5" style="font-size:36.5px;letter-spacing:1.60px;">50</text>
<text x="855.6" y="3791.5" style="font-size:36.5px;letter-spacing:1.60px;">60</text>
<text x="959.3" y="3791.5" style="font-size:36.5px;letter-spacing:1.60px;">70</text>
<text x="1063.3" y="3791.5" style="font-size:36.5px;letter-spacing:1.60px;">80</text>
<text x="1167.0" y="3791.5" style="font-size:36.5px;letter-spacing:1.60px;">90</text>
<path d="M254,3642.0h15M254,3542.0h15M254,3442.0h15M254,3342.0h15M357.8,3742v-15M461.6,3742v-15M565.3,3742v-15M669.1,3742v-15M772.9,3742v-15M876.7,3742v-15M980.4,3742v-15M1084.2,3742v-15" stroke="#000" stroke-width="2.5" fill="none"/>
<path d="M922,3271.0h49" stroke="#80ff80" stroke-width="4"/>
<text x="1013.4" y="3281.0" style="font-size:23.3px;letter-spacing:-0.60px;">AB</text>
<path d="M922,3311.0h49" stroke="#0000ff" stroke-width="4"/>
<text x="1013.7" y="3321.0" style="font-size:23.3px;letter-spacing:-0.94px;">TW</text>
<path d="M922,3351.0h49" stroke="#000000" stroke-width="4"/>
<text x="1012.4" y="3361.0" style="font-size:23.3px;letter-spacing:0.39px;">Food</text>
<polyline points="264.4,3700.8 274.8,3702.0 285.1,3679.9 295.5,3679.9 305.9,3703.9 316.3,3701.4 326.6,3697.7 337.0,3697.7 347.4,3696.8 357.8,3696.8 368.2,3696.8 378.5,3695.9 388.9,3695.3 399.3,3693.8 409.7,3695.9 420.0,3699.9 430.4,3697.7 440.8,3698.4 451.2,3698.4 461.6,3696.8 471.9,3692.8 482.3,3689.1 492.7,3686.7 503.1,3683.0 513.4,3693.8 523.8,3693.8 534.2,3694.7 544.6,3691.6 555.0,3697.7 565.3,3696.8 575.7,3696.8 586.1,3692.8 596.5,3698.4 606.8,3699.9 617.2,3695.3 627.6,3695.3 638.0,3692.2 648.4,3686.7 658.7,3687.6 669.1,3690.7 679.5,3699.9 689.9,3691.6 700.2,3692.8 710.6,3695.3 721.0,3697.7 731.4,3697.7 741.8,3698.4 752.1,3692.2 762.5,3692.2 772.9,3688.5 783.3,3694.7 793.6,3683.6 804.0,3688.5 814.4,3690.7 824.8,3683.6 835.2,3683.0 845.5,3692.2 855.9,3692.2 866.3,3681.5 876.7,3686.1 887.0,3692.2 897.4,3686.7 907.8,3699.9 918.2,3680.5 928.6,3682.4 938.9,3684.5 949.3,3679.9 959.7,3693.8 970.1,3681.5 980.4,3683.6 990.8,3683.6 1001.2,3683.6 1011.6,3680.5 1022.0,3683.0 1032.3,3688.5 1042.7,3684.5 1053.1,3683.6 1063.5,3687.6 1073.8,3683.6 1084.2,3689.1 1094.6,3689.1 1105.0,3695.9 1115.4,3692.8 1125.7,3693.8" fill="none" stroke="#0000ff" stroke-width="4.00" stroke-linejoin="round" stroke-linecap="round"/>
<polyline points="264.4,3680.5 274.8,3640.6 285.1,3642.4 295.5,3642.4 305.9,3655.3 316.3,3683.6 326.6,3669.2 337.0,3679.3 347.4,3682.4 357.8,3682.4 368.2,3682.4 378.5,3666.1 388.9,3661.5 399.3,3674.4 409.7,3659.9 420.0,3684.5 430.4,3663.0 440.8,3692.2 451.2,3686.7 461.6,3700.8 471.9,3671.3 482.3,3691.6 492.7,3686.7 503.1,3675.3 513.4,3667.0 523.8,3695.3 534.2,3700.8 544.6,3676.8 555.0,3651.6 565.3,3648.6 575.7,3634.4 586.1,3638.4 596.5,3666.1 606.8,3692.8 617.2,3656.9 627.6,3661.5 638.0,3652.9 648.4,3676.8 658.7,3693.8 669.1,3702.0 679.5,3699.9 689.9,3686.7 700.2,3672.2 710.6,3680.5 721.0,3658.4 731.4,3658.4 741.8,3675.3 752.1,3667.0 762.5,3646.7 772.9,3672.2 783.3,3640.0 793.6,3671.3 804.0,3675.3 814.4,3676.2 824.8,3671.3 835.2,3658.4 845.5,3624.6 855.9,3649.2 866.3,3646.7 876.7,3662.1 887.0,3680.5 897.4,3707.0 907.8,3674.4 918.2,3694.7 928.6,3703.0 938.9,3697.7 949.3,3647.6 959.7,3670.7 970.1,3670.7 980.4,3706.0 990.8,3699.0 1001.2,3697.7 1011.6,3693.8 1022.0,3697.7 1032.3,3703.0 1042.7,3704.5 1053.1,3706.0 1063.5,3706.0 1073.8,3724.5 1084.2,3708.2 1094.6,3708.2 1105.0,3708.2 1115.4,3716.2 1125.7,3703.0" fill="none" stroke="#80ff80" stroke-width="4.00" stroke-linejoin="round" stroke-linecap="round"/>
<polyline points="264.4,3702.0 274.8,3708.2 285.1,3692.2 295.5,3692.2 305.9,3708.2 316.3,3706.0 326.6,3710.0 337.0,3706.0 347.4,3705.4 357.8,3705.4 368.2,3705.4 378.5,3713.1 388.9,3712.2 399.3,3709.1 409.7,3704.5 420.0,3709.1 430.4,3706.0 440.8,3707.0 451.2,3706.0 461.6,3705.1 471.9,3707.0 482.3,3707.0 492.7,3705.1 503.1,3706.0 513.4,3707.6 523.8,3707.6 534.2,3708.2 544.6,3707.0 555.0,3712.2 565.3,3709.1 575.7,3708.2 586.1,3708.2 596.5,3710.0 606.8,3706.0 617.2,3711.3 627.6,3709.1 638.0,3711.3 648.4,3703.0 658.7,3707.0 669.1,3707.6 679.5,3707.6 689.9,3708.2 700.2,3709.1 710.6,3707.0 721.0,3709.1 731.4,3709.7 741.8,3711.3 752.1,3711.3 762.5,3711.3 772.9,3709.1 783.3,3713.1 793.6,3709.1 804.0,3710.0 814.4,3708.2 824.8,3710.0 835.2,3712.2 845.5,3709.1 855.9,3707.6 866.3,3706.0 876.7,3707.6 887.0,3708.2 897.4,3721.4 907.8,3721.4 918.2,3699.0 928.6,3706.0 938.9,3707.0 949.3,3708.2 959.7,3716.2 970.1,3704.5 980.4,3710.7 990.8,3711.3 1001.2,3710.0 1011.6,3703.0 1022.0,3710.0 1032.3,3715.3 1042.7,3715.3 1053.1,3701.4 1063.5,3713.7 1073.8,3713.7 1084.2,3709.1 1094.6,3709.1 1105.0,3711.3 1115.4,3715.3 1125.7,3715.3" fill="none" stroke="#000000" stroke-width="4.00" stroke-linejoin="round" stroke-linecap="round"/>
<text x="1747.8" y="3191.5" style="font-size:73px;letter-spacing:-1.20px;">SHR</text>
<text x="1410.9" y="3336.0" style="font-size:73.5px;">J</text>
<rect x="1367" y="3253" width="914" height="489" fill="none" stroke="#000" stroke-width="3.8"/>
<text x="1321.1" y="3758.0" style="font-size:35.8px;letter-spacing:1.57px;">0</text>
<text x="1299.6" y="3660.2" style="font-size:35.8px;letter-spacing:1.57px;">50</text>
<text x="1278.2" y="3562.4" style="font-size:35.8px;letter-spacing:1.57px;">100</text>
<text x="1278.2" y="3464.6" style="font-size:35.8px;letter-spacing:1.57px;">150</text>
<text x="1278.2" y="3366.8" style="font-size:35.8px;letter-spacing:1.57px;">200</text>
<text x="1278.2" y="3269.0" style="font-size:35.8px;letter-spacing:1.57px;">250</text>
<text x="1357.1" y="3791.0" style="font-size:35.8px;letter-spacing:1.57px;">0</text>
<text x="1447.5" y="3791.0" style="font-size:35.8px;letter-spacing:1.57px;">10</text>
<text x="1549.5" y="3791.0" style="font-size:35.8px;letter-spacing:1.57px;">20</text>
<text x="1651.3" y="3791.0" style="font-size:35.8px;letter-spacing:1.57px;">30</text>
<text x="1753.0" y="3791.0" style="font-size:35.8px;letter-spacing:1.57px;">40</text>
<text x="1854.3" y="3791.0" style="font-size:35.8px;letter-spacing:1.57px;">50</text>
<text x="1955.7" y="3791.0" style="font-size:35.8px;letter-spacing:1.57px;">60</text>
<text x="2057.2" y="3791.0" style="font-size:35.8px;letter-spacing:1.57px;">70</text>
<text x="2158.9" y="3791.0" style="font-size:35.8px;letter-spacing:1.57px;">80</text>
<text x="2260.4" y="3791.0" style="font-size:35.8px;letter-spacing:1.57px;">90</text>
<path d="M1367,3644.2h15M1367,3546.4h15M1367,3448.6h15M1367,3350.8h15M1468.6,3742v-15M1570.1,3742v-15M1671.7,3742v-15M1773.2,3742v-15M1874.8,3742v-15M1976.3,3742v-15M2077.9,3742v-15M2179.4,3742v-15" stroke="#000" stroke-width="2.5" fill="none"/>
<path d="M2021,3280.8h47" stroke="#80ff80" stroke-width="4"/>
<text x="2108.4" y="3290.8" style="font-size:22.8px;letter-spacing:-0.59px;">AB</text>
<path d="M2021,3319.9h47" stroke="#0000ff" stroke-width="4"/>
<text x="2108.7" y="3329.9" style="font-size:22.8px;letter-spacing:-0.92px;">TW</text>
<path d="M2021,3359.0h47" stroke="#000000" stroke-width="4"/>
<text x="2107.5" y="3369.0" style="font-size:22.8px;letter-spacing:0.38px;">Food</text>
<polyline points="1377.2,3713.9 1387.3,3718.1 1397.5,3682.9 1407.6,3682.9 1417.8,3719.9 1427.9,3705.5 1438.1,3708.5 1448.2,3704.0 1458.4,3707.0 1468.6,3707.0 1478.7,3707.0 1488.9,3708.5 1499.0,3710.0 1509.2,3709.1 1519.3,3710.9 1529.5,3710.9 1539.6,3702.5 1549.8,3688.9 1560.0,3720.5 1570.1,3710.0 1580.3,3707.0 1590.4,3710.9 1600.6,3710.9 1610.7,3713.0 1620.9,3712.1 1631.0,3698.0 1641.2,3708.5 1651.4,3708.5 1661.5,3709.1 1671.7,3710.0 1681.8,3707.0 1692.0,3707.0 1702.1,3704.9 1712.3,3704.0 1722.4,3711.5 1732.6,3707.0 1742.8,3705.5 1752.9,3705.5 1763.1,3693.4 1773.2,3698.0 1783.4,3698.9 1793.5,3698.0 1803.7,3696.4 1813.8,3690.4 1824.0,3701.0 1834.2,3679.9 1844.3,3691.9 1854.5,3692.8 1864.6,3695.8 1874.8,3685.0 1884.9,3691.0 1895.1,3686.8 1905.2,3688.9 1915.4,3678.4 1925.6,3667.9 1935.7,3719.9 1945.9,3735.6 1956.0,3700.1 1966.2,3698.9 1976.3,3701.0 1986.5,3689.8 1996.6,3704.0 2006.8,3707.0 2017.0,3699.5 2027.1,3687.4 2037.3,3672.4 2047.4,3681.4 2057.6,3690.4 2067.7,3696.4 2077.9,3666.4 2088.0,3685.9 2098.2,3694.9 2108.4,3693.4 2118.5,3693.4 2128.7,3697.0 2138.8,3698.9 2149.0,3690.4 2159.1,3710.9 2169.3,3691.0 2179.4,3691.0 2189.6,3704.9 2199.8,3672.4 2209.9,3687.4 2220.1,3679.0" fill="none" stroke="#0000ff" stroke-width="3.88" stroke-linejoin="round" stroke-linecap="round"/>
<polyline points="1377.2,3657.9 1387.3,3624.2 1397.5,3612.8 1407.6,3612.8 1417.8,3637.8 1427.9,3660.9 1438.1,3657.9 1448.2,3643.8 1458.4,3679.0 1468.6,3679.0 1478.7,3679.0 1488.9,3656.7 1499.0,3662.8 1509.2,3650.7 1519.3,3616.7 1529.5,3635.7 1539.6,3638.7 1549.8,3628.8 1560.0,3670.9 1570.1,3658.8 1580.3,3627.2 1590.4,3640.8 1600.6,3634.8 1610.7,3634.8 1620.9,3573.1 1631.0,3661.8 1641.2,3654.3 1651.4,3618.8 1661.5,3581.5 1671.7,3636.9 1681.8,3628.8 1692.0,3593.6 1702.1,3619.7 1712.3,3632.7 1722.4,3570.1 1732.6,3559.6 1742.8,3602.6 1752.9,3582.7 1763.1,3670.0 1773.2,3669.4 1783.4,3670.9 1793.5,3667.9 1803.7,3669.4 1813.8,3670.9 1824.0,3670.9 1834.2,3670.0 1844.3,3666.4 1854.5,3664.9 1864.6,3667.0 1874.8,3665.8 1884.9,3664.0 1895.1,3667.0 1905.2,3658.8 1915.4,3656.7 1925.6,3620.6 1935.7,3583.6 1945.9,3654.3 1956.0,3654.9 1966.2,3657.9 1976.3,3653.7 1986.5,3652.8 1996.6,3655.8 2006.8,3658.8 2017.0,3658.8 2027.1,3659.7 2037.3,3661.8 2047.4,3660.9 2057.6,3657.3 2067.7,3656.7 2077.9,3655.8 2088.0,3658.8 2098.2,3656.7 2108.4,3661.8 2118.5,3658.8 2128.7,3658.8 2138.8,3655.8 2149.0,3654.3 2159.1,3657.9 2169.3,3658.8 2179.4,3701.0 2189.6,3702.5 2199.8,3658.8 2209.9,3667.0 2220.1,3667.0" fill="none" stroke="#80ff80" stroke-width="3.88" stroke-linejoin="round" stroke-linecap="round"/>
<polyline points="1377.2,3698.9 1387.3,3704.0 1397.5,3680.8 1407.6,3680.8 1417.8,3698.9 1427.9,3704.0 1438.1,3699.5 1448.2,3710.0 1458.4,3704.0 1468.6,3704.9 1478.7,3704.9 1488.9,3709.1 1499.0,3710.0 1509.2,3707.9 1519.3,3708.5 1529.5,3713.9 1539.6,3707.9 1549.8,3707.9 1560.0,3709.1 1570.1,3709.1 1580.3,3711.5 1590.4,3706.1 1600.6,3709.1 1610.7,3707.0 1620.9,3709.1 1631.0,3709.1 1641.2,3706.1 1651.4,3710.0 1661.5,3707.0 1671.7,3708.5 1681.8,3709.1 1692.0,3707.9 1702.1,3707.9 1712.3,3707.9 1722.4,3704.9 1732.6,3710.0 1742.8,3710.9 1752.9,3704.0 1763.1,3704.9 1773.2,3704.9 1783.4,3706.1 1793.5,3705.5 1803.7,3707.0 1813.8,3706.1 1824.0,3706.1 1834.2,3707.0 1844.3,3710.0 1854.5,3708.5 1864.6,3705.5 1874.8,3707.9 1884.9,3709.1 1895.1,3707.9 1905.2,3710.0 1915.4,3708.5 1925.6,3704.9 1935.7,3713.9 1945.9,3713.9 1956.0,3704.0 1966.2,3707.0 1976.3,3707.0 1986.5,3707.0 1996.6,3712.1 2006.8,3712.1 2017.0,3699.5 2027.1,3704.0 2037.3,3704.0 2047.4,3708.5 2057.6,3707.0 2067.7,3714.5 2077.9,3710.9 2088.0,3713.0 2098.2,3710.0 2108.4,3695.8 2118.5,3710.0 2128.7,3710.0 2138.8,3710.0 2149.0,3675.4 2159.1,3684.4 2169.3,3717.5 2179.4,3710.9 2189.6,3710.9 2199.8,3714.5 2209.9,3708.5 2220.1,3711.5" fill="none" stroke="#000000" stroke-width="8.05" stroke-linejoin="round" stroke-linecap="round"/>
</svg>
</body></html>
